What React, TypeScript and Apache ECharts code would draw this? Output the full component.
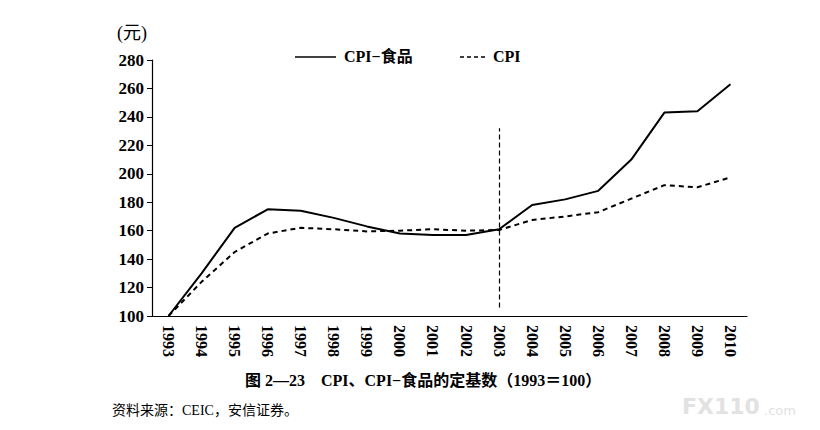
import React, { useEffect, useRef } from 'react';
import * as echarts from 'echarts';

const years = [
  '1993', '1994', '1995', '1996', '1997', '1998', '1999', '2000', '2001',
  '2002', '2003', '2004', '2005', '2006', '2007', '2008', '2009', '2010',
];
const cpiFood = [100, 130, 162, 175, 174, 169, 163, 158, 157, 157, 161, 178, 182, 188, 210, 243, 244, 263];
const cpi = [100, 124, 145, 158, 162, 161, 159.5, 160, 161, 160, 160.5, 167.5, 170, 173, 182.5, 192, 190.5, 197.5];
const seriesNames = ['CPI−食品', 'CPI'];
const markYear = '2003';
const markRange = [106, 232];

const serif = '"Liberation Serif", "Noto Sans CJK SC", serif';

const App: React.FC = () => {
  const chartRef = useRef<HTMLDivElement>(null);

  useEffect(() => {
    if (!chartRef.current) return;
    const chart = echarts.init(chartRef.current, undefined, { renderer: 'svg' });

    chart.setOption({
      animation: false,
      backgroundColor: '#fff',
      textStyle: { fontFamily: serif, color: '#000' },
      grid: { left: 152, right: 73, top: 60, bottom: 114 },
      xAxis: {
        type: 'category',
        data: years,
        boundaryGap: true,
        axisLine: { lineStyle: { color: '#000', width: 1.2 } },
        axisTick: { length: 5, lineStyle: { color: '#000' } },
        axisLabel: {
          rotate: -90,
          color: '#000',
          fontFamily: serif,
          fontWeight: 'bold',
          fontSize: 16,
          margin: 9,
          interval: 0,
        },
      },
      yAxis: {
        type: 'value',
        min: 100,
        max: 280,
        interval: 20,
        axisLine: { show: true, lineStyle: { color: '#000', width: 1.2 } },
        axisTick: { show: true, length: 5, lineStyle: { color: '#000' } },
        splitLine: { show: false },
        axisLabel: {
          color: '#000',
          fontFamily: serif,
          fontWeight: 'bold',
          fontSize: 17,
          margin: 8,
        },
      },
      series: [
        {
          name: seriesNames[0],
          type: 'line',
          data: cpiFood,
          symbol: 'none',
          lineStyle: { color: '#000', width: 2 },
        },
        {
          name: seriesNames[1],
          type: 'line',
          data: cpi,
          symbol: 'none',
          lineStyle: { color: '#000', width: 2, type: [5, 4] },
          markLine: {
            silent: true,
            symbol: 'none',
            label: { show: false },
            lineStyle: { color: '#000', width: 1.2, type: [5, 3] },
            data: [[{ coord: [markYear, markRange[0]] }, { coord: [markYear, markRange[1]] }]],
          },
        },
      ],
      graphic: [
        // legend
        {
          type: 'line',
          shape: { x1: 295, y1: 57, x2: 336, y2: 57 },
          style: { stroke: '#000', lineWidth: 1.5 },
        },
        {
          type: 'text',
          left: 344,
          top: 48,
          style: { text: seriesNames[0], font: `bold 16px ${serif}`, fill: '#000' },
        },
        {
          type: 'line',
          shape: { x1: 460, y1: 57, x2: 486, y2: 57 },
          style: { stroke: '#000', lineWidth: 1.5, lineDash: [4, 3] },
        },
        {
          type: 'text',
          left: 493,
          top: 48,
          style: { text: seriesNames[1], font: `bold 16px ${serif}`, fill: '#000' },
        },
        {
          type: 'text',
          left: 117,
          top: 24,
          style: { text: '(元)', font: `18px ${serif}`, fill: '#000' },
        },
        {
          type: 'text',
          left: 245,
          top: 372,
          style: {
            text: '图 2—23    CPI、CPI−食品的定基数（1993＝100）',
            font: `bold 16px ${serif}`,
            fill: '#000',
          },
        },
        {
          type: 'text',
          left: 112,
          top: 403,
          style: { text: '资料来源：CEIC，安信证券。', font: `14px ${serif}`, fill: '#000' },
        },
        {
          type: 'text',
          left: 682,
          top: 395,
          style: { text: 'FX110', font: 'bold 22px "DejaVu Sans", sans-serif', fill: '#e2e2e2' },
        },
        {
          type: 'text',
          left: 764,
          top: 404,
          style: { text: '.com', font: '13px "DejaVu Sans", sans-serif', fill: '#e2e2e2' },
        },
      ],
    });

    return () => {
      chart.dispose();
    };
  }, []);

  return (
    <div
      ref={chartRef}
      style={{ position: 'fixed', left: 0, top: 0, width: '820px', height: '430px' }}
    ></div>
  );
};

export default App;
